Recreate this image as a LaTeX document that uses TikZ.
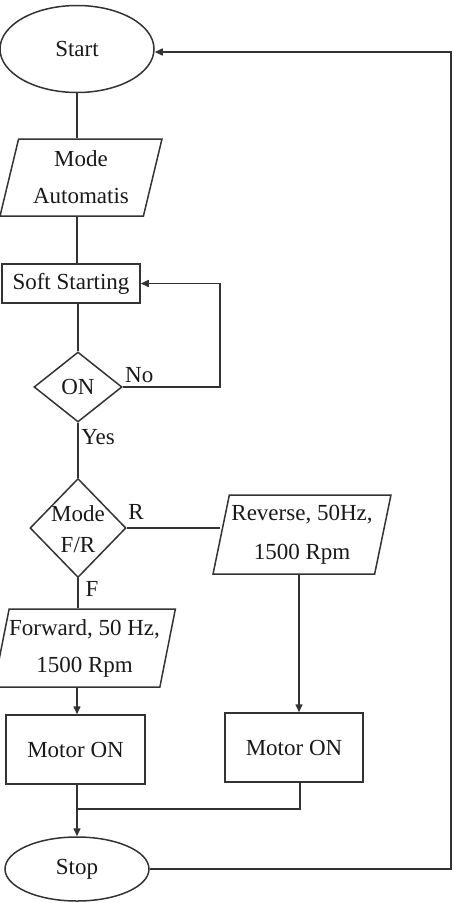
\documentclass[tikz,border=0pt]{standalone}
\usepackage{fontspec}
\setmainfont{Liberation Serif}
\usetikzlibrary{shapes.geometric,arrows.meta}
\begin{document}
\begin{tikzpicture}[x=1pt,y=-1pt,
  every node/.style={font=\fontsize{23}{27}\selectfont, text=black!90},
  line/.style={draw=black!80, line width=1.5pt},
  arr/.style={line, -{Triangle[length=8pt,width=7pt]}},
  term/.style={line, ellipse, inner sep=0pt},
  proc/.style={line, rectangle, inner sep=0pt},
  io/.style={line, trapezium, trapezium left angle=75, trapezium right angle=105,
             trapezium stretches=true, inner sep=0pt, align=center},
  dec/.style={line, diamond, inner sep=0pt},
  lbl/.style={inner sep=0pt}]
\useasboundingbox (0,0) rectangle (454,903);

\node[term, minimum width=154, minimum height=87] (start) at (77,49) {Start};
\node[io, minimum width=162, minimum height=77, font=\fontsize{23}{37}\selectfont] (ma) at (81,177.5) {Mode\\Automatis};
\node[proc, minimum width=138, minimum height=39] (soft) at (71,283.5) {Soft Starting};
\node[dec, minimum width=88, minimum height=70] (on) at (78,387) {};
\node[lbl] (ontxt) at (on.center) {ON};
\node[dec, minimum width=96, minimum height=99] (fr) at (78,528) {};
\node[lbl, align=center, font=\fontsize{23}{31}\selectfont] (frtxt) at (78,529) {Mode\\F/R};
\node[io, minimum width=178, minimum height=79, font=\fontsize{23}{39}\selectfont] (rev) at (302,534.5) {Reverse, 50Hz,\\1500 Rpm};
\node[io, minimum width=175, minimum height=78, font=\fontsize{23}{37}\selectfont] (fwd) at (84.5,648) {Forward, 50 Hz,\\1500 Rpm};
\node[proc, minimum width=139, minimum height=69] (ml) at (75.5,749.5) {Motor ON};
\node[proc, minimum width=138, minimum height=69] (mr) at (294,747.5) {Motor ON};
\node[term, minimum width=144, minimum height=64] (stop) at (77,869) {Stop};

\node[lbl, anchor=west] (no) at (125,375) {No};
\node[lbl] (yes) at (98,437) {Yes};
\node[lbl] (r) at (136,512) {R};
\node[lbl] (f) at (92,589) {F};

\coordinate (join) at (77,809);
\coordinate (rightrail) at (451,52);

\draw[line] (start.south) -- (start.south |- ma.north);
\draw[line] (ma.south -| start.south) -- (soft.north -| start.south);
\draw[line] (soft.south -| on.north) -- (on.north);
\draw[arr] (on.east) -- ++(97,0) |- (soft.east);
\draw[line] (on.south) -- (on.south |- fr.north);
\draw[line] (fr.east) -- (fr.east -| rev.west);
\draw[line] (fr.south) -- (fr.south |- fwd.north);
\draw[arr] (fwd.south -| join) -- (ml.north -| join);
\draw[arr] (rev.south -| 299,0) -- (mr.north -| 299,0);
\draw[arr] (ml.south -| join) -- (stop.north -| join);
\draw[line] (mr.south -| 300,0) |- (join);
\draw[arr] (stop.east) -| (rightrail) -- (start.east |- rightrail);
\end{tikzpicture}
\end{document}
